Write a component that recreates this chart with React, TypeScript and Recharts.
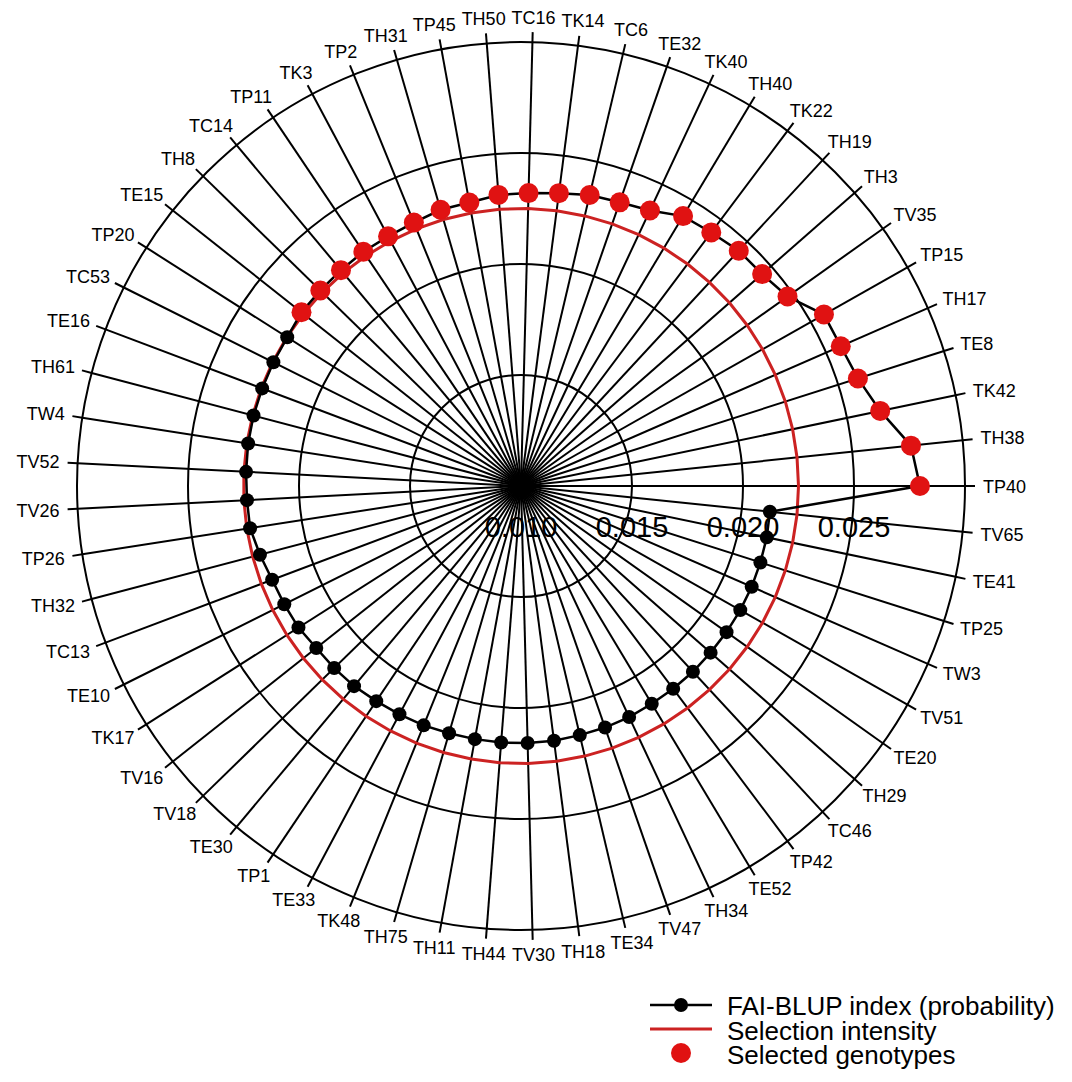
import React from "react";
import { RadarChart, Radar, PolarGrid, PolarAngleAxis, PolarRadiusAxis } from "recharts";

// genotypes, ranked by FAI-BLUP index (counter-clockwise from east)
const GENOTYPES = [
  "TP40", "TH38", "TK42", "TE8", "TH17", "TP15", "TV35", "TH3", "TH19", "TK22",
  "TH40", "TK40", "TE32", "TC6", "TK14", "TC16", "TH50", "TP45", "TH31", "TP2",
  "TK3", "TP11", "TC14", "TH8", "TE15", "TP20", "TC53", "TE16", "TH61", "TW4",
  "TV52", "TV26", "TP26", "TH32", "TC13", "TE10", "TK17", "TV16", "TV18", "TE30",
  "TP1", "TE33", "TK48", "TH75", "TH11", "TH44", "TV30", "TH18", "TE34", "TV47",
  "TH34", "TE52", "TP42", "TC46", "TH29", "TE20", "TV51", "TW3", "TP25", "TE41",
  "TV65",
];

const FAI_BLUP = [
  0.02797, 0.02766, 0.02653, 0.02593, 0.02572, 0.02568, 0.02473, 0.02446, 0.02444, 0.02428,
  0.02418, 0.0237, 0.02353, 0.02347, 0.0233, 0.0232, 0.02315, 0.02298, 0.02296, 0.02281,
  0.02274, 0.02272, 0.02266, 0.02262, 0.02261, 0.02248, 0.02247, 0.02246, 0.02246, 0.02244,
  0.0224, 0.02236, 0.02235, 0.02216, 0.02198, 0.02192, 0.02188, 0.02176, 0.02175, 0.02174,
  0.02168, 0.02165, 0.02164, 0.0216, 0.02159, 0.02159, 0.02158, 0.02157, 0.02153, 0.02152,
  0.02149, 0.02144, 0.02142, 0.0214, 0.02137, 0.02136, 0.02135, 0.02134, 0.02132, 0.02131,
  0.02127,
];

const SELECTED = [
  "TP40", "TH38", "TK42", "TE8", "TH17", "TP15", "TV35", "TH3", "TH19", "TK22",
  "TH40", "TK40", "TE32", "TC6", "TK14", "TC16", "TH50", "TP45", "TH31", "TP2",
  "TK3", "TP11", "TC14", "TH8", "TE15",
];

const SELECTION_INTENSITY = 0.0225;
// the radial axis starts at 0.010 in the centre and ends at 0.030 on the rim
const AXIS_MIN = 0.01;
const AXIS_MAX = 0.03;
const RADIUS_TICKS = [0.01, 0.015, 0.02, 0.025, 0.03];
const LEGEND_LABELS = ["FAI-BLUP index (probability)", "Selection intensity", "Selected genotypes"];

const FONT = '"Liberation Sans", Arial, Helvetica, sans-serif';
const RED_DOT = "#E01212";
const RED_LINE = "#CC2222";

// recharts' radar radius axis always begins at 0, so values are stored relative to AXIS_MIN
// recharts walks clockwise here, so keep TP40 first and reverse the rest
const order = [0, ...GENOTYPES.map((_, i) => i).slice(1).reverse()];
const data = order.map((i) => ({
  name: GENOTYPES[i],
  fai: FAI_BLUP[i] - AXIS_MIN,
  intensity: SELECTION_INTENSITY - AXIS_MIN,
}));

// rough Arial advance widths, to push labels outward like the original
const CHAR_W: Record<string, number> = {
  T: 0.611, P: 0.667, H: 0.722, C: 0.722, K: 0.667, E: 0.667, V: 0.667, W: 0.944,
};
const labelWidth = (s: string, size: number) =>
  s.split("").reduce((w, c) => w + (CHAR_W[c] ?? 0.556), 0) * size;

const renderAngleTick = (props: any) => {
  const { x, y, cx, cy, payload } = props;
  const dx = x - cx;
  const dy = cy - y;
  const len = Math.hypot(dx, dy) || 1;
  const cos = dx / len;
  const sin = dy / len;
  const w = labelWidth(String(payload.value), 18);
  const tx = x + cos * (8 + w / 2);
  const ty = y - sin * (8 + 7);
  return (
    <text x={tx} y={ty + 6.5} textAnchor="middle" fontSize={18} fontFamily={FONT} fill="#000">
      {payload.value}
    </text>
  );
};

const renderRadiusTick = (props: any) => {
  const { x, y, payload } = props;
  const v = Number(payload.value) + AXIS_MIN;
  if (v >= AXIS_MAX - 1e-6) return <g />;
  return (
    <text x={x} y={y + 51} textAnchor="middle" fontSize={29} fontFamily={FONT} fill="#000">
      {v.toFixed(3)}
    </text>
  );
};

const renderDot = (props: any) => {
  const { cx, cy, index } = props;
  const picked = SELECTED.includes(data[index]?.name);
  return (
    <circle
      key={`dot-${index}`}
      cx={cx}
      cy={cy}
      r={picked ? 10 : 7}
      fill={picked ? RED_DOT : "#000"}
      stroke="none"
    />
  );
};

export default function App() {
  return (
    <div style={{ position: "relative", width: 1064, height: 1074, background: "#fff" }}>
      <RadarChart
        width={1064}
        height={1074}
        data={data}
        cx={513}
        cy={478}
        outerRadius={444}
        startAngle={0}
        endAngle={-360}
        margin={{ top: 0, right: 0, bottom: 0, left: 0 }}
      >
        <PolarGrid gridType="circle" stroke="#000" strokeWidth={2} strokeOpacity={1} />
        <PolarAngleAxis
          dataKey="name"
          axisLine={false}
          tickLine={{ stroke: "#000", strokeWidth: 2 }}
          tickSize={10}
          tick={renderAngleTick}
        />
        <PolarRadiusAxis
          angle={0}
          type="number"
          domain={[0, AXIS_MAX - AXIS_MIN]}
          allowDataOverflow
          ticks={RADIUS_TICKS.map((t) => t - AXIS_MIN)}
          tickCount={5}
          axisLine={false}
          tickLine={false}
          tick={renderRadiusTick}
        />
        <Radar
          dataKey="intensity"
          stroke={RED_LINE}
          strokeWidth={3}
          fill="none"
          fillOpacity={0}
          dot={false}
          isAnimationActive={false}
        />
        <Radar
          dataKey="fai"
          stroke="#000"
          strokeWidth={2.5}
          fill="none"
          fillOpacity={0}
          dot={renderDot}
          isAnimationActive={false}
        />
      </RadarChart>

      {/* legend, bottom right */}
      <svg
        width={440}
        height={92}
        style={{ position: "absolute", left: 632, top: 977 }}
        fontFamily={FONT}
      >
        <line x1={10} x2={72} y1={20} y2={20} stroke="#000" strokeWidth={2.5} />
        <circle cx={41} cy={20} r={7} fill="#000" />
        <text x={87} y={30} fontSize={26} fill="#000">{LEGEND_LABELS[0]}</text>

        <line x1={10} x2={72} y1={44} y2={44} stroke={RED_LINE} strokeWidth={3} />
        <text x={87} y={55} fontSize={26} fill="#000">{LEGEND_LABELS[1]}</text>

        <circle cx={41} cy={68} r={10} fill={RED_DOT} />
        <text x={87} y={79} fontSize={26} fill="#000">{LEGEND_LABELS[2]}</text>
      </svg>
    </div>
  );
}
